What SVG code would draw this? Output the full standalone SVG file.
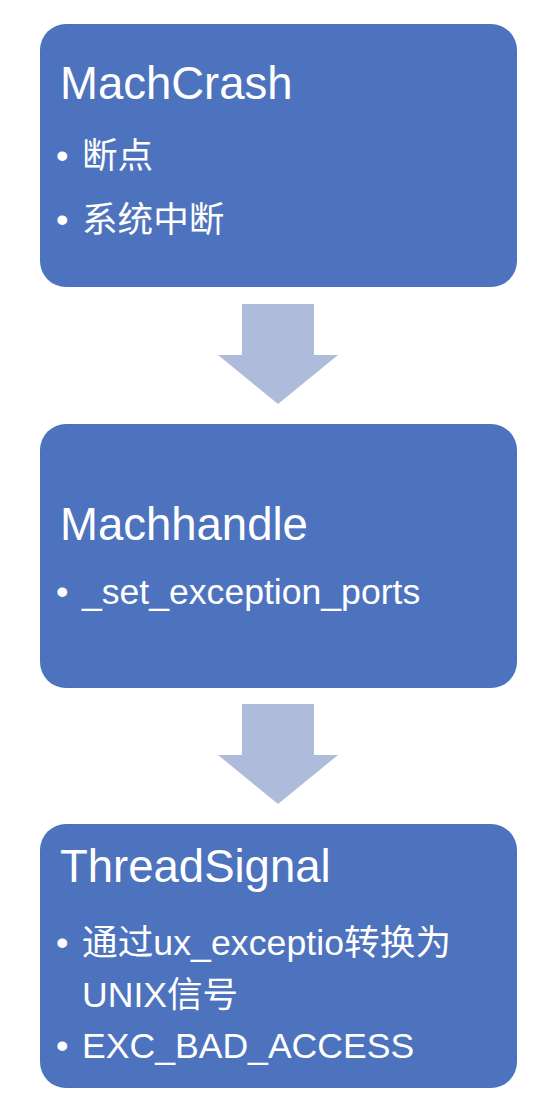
<svg xmlns="http://www.w3.org/2000/svg" width="546" height="1106" viewBox="0 0 546 1106">
<style>
.box{fill:#4E73BE}
.arr{fill:#AEBBDA}
.t{font-family:"Liberation Sans","Noto Sans CJK SC",sans-serif;fill:#fff}
.h{font-size:45.5px}
.b{font-size:35.6px}
</style>
<rect width="546" height="1106" fill="#fff"/>
<g id="connectors">
<polygon class="arr" points="242,304 314,304 314,355 338,355 278,404 218,355 242,355"/>
<polygon class="arr" points="242,704 314,704 314,755 338,755 278,804 218,755 242,755"/>
</g>
<g id="node-machcrash">
<rect class="box" x="40" y="24" width="477" height="263" rx="26"/>
<text class="t h" x="60" y="99">MachCrash</text>
<text class="t b" x="56" y="168">•</text>
<text class="t b" x="82" y="168">断点</text>
<text class="t b" x="56" y="232">•</text>
<text class="t b" x="82" y="232">系统中断</text>
</g>
<g id="node-machhandle">
<rect class="box" x="40" y="424" width="477" height="264" rx="26"/>
<text class="t h" x="60" y="540">Machhandle</text>
<text class="t b" x="56" y="604">•</text>
<text class="t b" x="82" y="604">_set_exception_ports</text>
</g>
<g id="node-threadsignal">
<rect class="box" x="40" y="824" width="477" height="264" rx="26"/>
<text class="t h" x="60" y="882">ThreadSignal</text>
<text class="t b" x="56" y="955">•</text>
<text class="t b" x="82" y="955" textLength="369" lengthAdjust="spacing">通过ux_exceptio转换为</text>
<text class="t b" x="82" y="1007">UNIX信号</text>
<text class="t b" x="56" y="1058">•</text>
<text class="t b" x="82" y="1058">EXC_BAD_ACCESS</text>
</g>
</svg>
